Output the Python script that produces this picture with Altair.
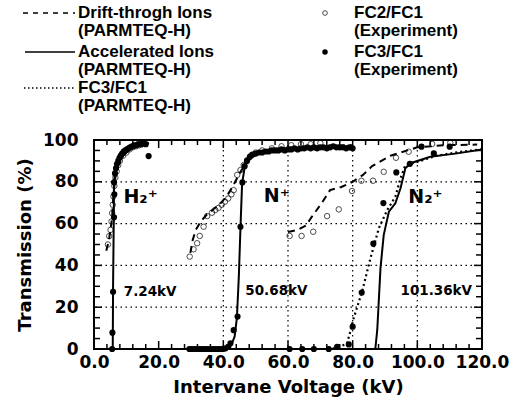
import altair as alt
import pandas as pd

# ---------------- data ----------------
# Drift-through ions (PARMTEQ-H) - dashed
drift_h2_x = [3.8, 4.6, 5.1, 5.6, 5.8, 6.1, 6.6, 7.5, 9.0, 11.0, 14.0, 17.0]
drift_h2_y = [47, 52, 57, 63, 69, 75, 82, 88, 92.5, 95.5, 97.5, 98.5]
drift_n_x = [29.8, 30.5, 31.5, 33.0, 35.0, 37.0, 39.0, 41.0, 43.0, 45.0, 47.0, 49.0, 52.0, 56.0, 62.0, 70.0, 80.0]
drift_n_y = [46, 52, 57, 61, 64.5, 67, 69.5, 73, 78, 84, 89, 92, 94, 95.5, 96.5, 97, 97.5]
drift_n2_x = [60.0, 63.0, 65.5, 67.7, 70.5, 73.0, 76.5, 80.0, 83.2, 86.0, 91.7, 100.0, 108.0, 118.5]
drift_n2_y = [56, 57, 59, 64, 70, 76, 77.5, 80, 83.3, 87.5, 92.5, 96.5, 97.5, 97.8]

# Accelerated ions (PARMTEQ-H) - solid
acc_h2_x = [5.8, 5.9, 6.1, 6.2, 6.6, 7.5, 8.5, 10.0, 12.0, 14.0, 17.0]
acc_h2_y = [0, 30, 60, 80, 85, 89, 92, 94.5, 96.5, 97.5, 98.5]
acc_n_x = [29.5, 41.5, 42.5, 43.5, 44.2, 44.8, 45.3, 45.8, 46.6, 48.0, 51.0, 56.0, 62.0, 70.0, 80.0]
acc_n_y = [0, 0, 2, 6, 15, 35, 58, 79, 87, 92, 94, 95, 95.8, 96.3, 96.8]
acc_n2_x = [87.0, 87.6, 88.6, 89.6, 91.2, 93.2, 94.8, 96.3, 97.9, 104.0, 112.3, 120.0]
acc_n2_y = [0, 9, 38.6, 54.5, 65.7, 69.7, 76.9, 86.5, 88.9, 92.0, 93.6, 95.5]

# FC3/FC1 (PARMTEQ-H) - dotted
fc3sim_n2_x = [60.0, 73.0, 76.0, 78.3, 80.3, 82.9, 85.5, 88.1, 90.7, 93.2, 94.8, 96.3, 99.9, 106.0, 114.0, 120.0]
fc3sim_n2_y = [0, 0, 1, 2.7, 14.7, 27.4, 43.4, 57.8, 66.5, 72.9, 81.7, 88, 89.5, 92.5, 94.5, 95.5]

# FC2/FC1 (Experiment) - open circles
fc2_x = [4.3, 4.7, 5.1, 5.4, 5.6, 5.8, 6.0, 6.3, 6.6, 7.0, 7.5, 8.0, 9.0, 10.0, 11.0, 12.0, 13.0, 14.0, 15.0,
         29.6, 30.8, 31.9, 32.7, 33.9, 35.0, 36.5, 37.5, 38.5, 39.5, 40.5, 41.5, 42.5, 43.2, 44.3, 45.3, 46.3,
         47.4, 48.5, 50.0, 52.0, 55.0, 58.0, 61.0, 64.0, 67.0, 70.0,
         60.5, 64.2, 67.8, 72.1, 75.7, 79.8, 82.7, 86.3, 89.6, 93.4, 97.3, 104.6, 110.2]
fc2_y = [50, 54, 57, 61, 65, 69, 73, 78, 82, 85, 88, 90, 92.5, 94, 95.5, 96.5, 97, 97.5, 98,
         44.2, 47.7, 50.6, 54.1, 58.5, 63.6, 65.2, 66.5, 67.5, 69, 70.5, 72, 74, 76, 83.3, 85.6, 88,
         90.4, 92.5, 94, 95, 96, 97, 97.5, 98, 98, 98.5,
         54.1, 54.1, 56.1, 63.6, 66.8, 75.6, 80.5, 80.5, 84.8, 91.5, 94.4, 98.1, 98.7]

# FC3/FC1 (Experiment) - filled circles
fc3_x = [5.6, 5.7, 5.9, 6.2, 6.3, 6.2, 6.5, 6.8, 7.1, 7.5, 7.9, 8.3, 8.7, 9.2, 9.7, 10.2, 10.7, 11.2, 11.8,
         12.4, 13.0, 13.7, 14.5, 15.3, 16.0, 16.9,
         29.5, 30.3, 31.1, 31.9, 32.7, 33.5, 34.3, 35.1, 35.9, 36.7, 37.5, 38.3, 39.1, 39.9, 40.7, 41.5,
         42.2, 43.2, 44.4, 45.3, 45.9, 46.6, 47.3, 48.2, 49, 50, 51, 52, 53, 54, 55, 56, 57, 58, 59, 60,
         61, 62, 63, 64, 65, 66, 67, 68, 69, 70, 71, 72, 73, 74, 75, 76, 77, 78, 79, 80,
         60.5, 64.4, 68.0, 72.6, 75.2, 78.8, 80.0, 82.8, 86.4, 89.5, 93.5, 97.7, 101.3, 105.1, 110.0]
fc3_y = [0, 7.8, 27.4, 63, 74, 79.8, 84, 86.5, 88.5, 90, 91.5, 92.5, 93.5, 94.5, 95, 95.5, 96, 96.5, 97,
         97.5, 97.5, 98, 98, 98.5, 98, 92.3,
         0, 0, 0, 0, 0, 0, 0, 0, 0, 0, 0, 0, 0, 0, 0.3, 1,
         2.7, 9, 15.5, 58.5, 79.7, 87.5, 90, 92, 93, 93.5, 94, 94, 94.5, 94.5, 95, 95, 95, 95.5, 95, 95.5,
         95.5, 96, 95.5, 96, 96, 96.5, 96, 96.5, 96, 96.5, 96.5, 96, 96.5, 97, 96.5, 96.5, 96.5, 96, 96.5, 96,
         0, 0, 0, 0, 1, 2.2, 10.7, 27, 50.4, 69.8, 84.5, 88.6, 96.8, 93.6, 96.8]

# in-plot annotations
ann_text = ["H\u2082\u207a", "N\u207a", "N\u2082\u207a"]
ann_x = [9.1, 52.5, 97.2]
ann_y = [72.9, 73.2, 72.9]
volt_text = ["7.24kV", "50.68kV", "101.36kV"]
volt_x = [9.2, 46.8, 94.8]
volt_y = [27.4, 27.8, 27.8]

# axes / grid
x_labels = [0, 20, 40, 60, 80, 100, 120]
y_labels = [0, 20, 40, 60, 80, 100]
x_grid = [40, 60, 80, 100]
y_grid = [20, 40, 60, 80]
x_minor = [v for v in range(0, 121, 4) if v % 20 != 0]
y_minor = [v for v in range(0, 101, 5) if v % 20 != 0]

# legend
leg_line_text = ["Drift-throgh Ions\n(PARMTEQ-H)", "Accelerated Ions\n(PARMTEQ-H)", "FC3/FC1\n(PARMTEQ-H)"]
leg_mark_text = ["FC2/FC1\n(Experiment)", "FC3/FC1\n(Experiment)"]

# ---------------- chart ----------------
W, H = 388, 209
FONT = "DejaVu Sans"
LFONT = "Liberation Sans"

xs = alt.Scale(domain=[0, 120], nice=False)
ys = alt.Scale(domain=[0, 100], nice=False)

x_axis = alt.Axis(
    values=x_labels, format=".1f", ticks=False, domain=False, grid=False,
    labelFont=FONT, labelFontSize=17, labelFontWeight="bold", labelColor="black",
    labelPadding=5, labelFlush=False,
    title="Intervane Voltage (kV)", titleFont=FONT, titleFontSize=18,
    titleFontWeight="bold", titleColor="black", titlePadding=8)
y_axis = alt.Axis(
    values=y_labels, format="d", ticks=False, domain=False, grid=False,
    labelFont=FONT, labelFontSize=17, labelFontWeight="bold", labelColor="black",
    labelPadding=16, labelFlush=False,
    title="Transmission (%)", titleFont=FONT, titleFontSize=18,
    titleFontWeight="bold", titleColor="black", titlePadding=8)

X = alt.X("x:Q", scale=xs, axis=x_axis)
Y = alt.Y("y:Q", scale=ys, axis=y_axis)


def curve(xv, yv, g):
    return pd.DataFrame({"x": xv, "y": yv, "g": g, "i": list(range(len(xv)))})


drift_df = pd.concat([curve(drift_h2_x, drift_h2_y, "H2"), curve(drift_n_x, drift_n_y, "N"),
                      curve(drift_n2_x, drift_n2_y, "N2")])
acc_df = pd.concat([curve(acc_h2_x, acc_h2_y, "H2"), curve(acc_n_x, acc_n_y, "N"),
                    curve(acc_n2_x, acc_n2_y, "N2")])
dot_df = curve(fc3sim_n2_x, fc3sim_n2_y, "N2")
fc2_df = pd.DataFrame({"x": fc2_x, "y": fc2_y})
fc3_df = pd.DataFrame({"x": fc3_x, "y": fc3_y})

grid_style = dict(color="black", strokeWidth=1.2, strokeDash=[1.5, 3.5])
vgrid = alt.Chart(pd.DataFrame({"x": x_grid})).mark_rule(**grid_style).encode(x=X)
hgrid = alt.Chart(pd.DataFrame({"y": y_grid})).mark_rule(**grid_style).encode(y=Y)

drift = alt.Chart(drift_df).mark_line(color="black", strokeWidth=2, strokeDash=[7, 5]).encode(
    x=X, y=Y, detail="g:N", order="i:Q")
acc = alt.Chart(acc_df).mark_line(color="black", strokeWidth=2).encode(
    x=X, y=Y, detail="g:N", order="i:Q")
dotted = alt.Chart(dot_df).mark_line(color="black", strokeWidth=2.2, strokeDash=[2, 3]).encode(
    x=X, y=Y, detail="g:N", order="i:Q")

open_pts = alt.Chart(fc2_df).mark_point(shape="circle", filled=False, color="black",
                                        strokeWidth=1, size=30).encode(x=X, y=Y)
full_pts = alt.Chart(fc3_df).mark_point(shape="circle", filled=True, color="black",
                                        opacity=1, size=38).encode(x=X, y=Y)

ann = alt.Chart(pd.DataFrame({"x": ann_x, "y": ann_y, "t": ann_text})).mark_text(
    align="left", baseline="middle", font=FONT, fontSize=19, fontWeight="bold", color="black"
).encode(x=X, y=Y, text="t:N")
volt = alt.Chart(pd.DataFrame({"x": volt_x, "y": volt_y, "t": volt_text})).mark_text(
    align="left", baseline="middle", font=FONT, fontSize=13.5, fontWeight="bold", color="black"
).encode(x=X, y=Y, text="t:N")


# inward ticks on all four sides
def xticks(vals, length):
    d = pd.DataFrame({"x": vals})
    bot = alt.Chart(d).mark_rule(color="black", strokeWidth=1.5).encode(
        x=X, y=alt.value(H), y2=alt.value(H - length))
    top = alt.Chart(d).mark_rule(color="black", strokeWidth=1.5).encode(
        x=X, y=alt.value(0), y2=alt.value(length))
    return [bot, top]


def yticks(vals, length):
    d = pd.DataFrame({"y": vals})
    left = alt.Chart(d).mark_rule(color="black", strokeWidth=1.5).encode(
        y=Y, x=alt.value(0), x2=alt.value(length))
    right = alt.Chart(d).mark_rule(color="black", strokeWidth=1.5).encode(
        y=Y, x=alt.value(W), x2=alt.value(W - length))
    return [left, right]


ticks = xticks(x_labels, 8) + xticks(x_minor, 5) + yticks(y_labels, 8) + yticks(y_minor, 6)

# legend (drawn above the plot area)
leg_rows_y = [-127, -88, -52]
one = pd.DataFrame({"a": [0]})
legend_layers = []
for txt, py in zip(leg_line_text, leg_rows_y):
    legend_layers.append(alt.Chart(one).mark_text(
        align="left", baseline="middle", font=LFONT, fontSize=17, fontWeight="bold",
        color="black", lineBreak="\n", lineHeight=18, text=txt
    ).encode(x=alt.value(-16), y=alt.value(py)))
for txt, py in zip(leg_mark_text, leg_rows_y[:2]):
    legend_layers.append(alt.Chart(one).mark_text(
        align="left", baseline="middle", font=LFONT, fontSize=17, fontWeight="bold",
        color="black", lineBreak="\n", lineHeight=18, text=txt
    ).encode(x=alt.value(260), y=alt.value(py)))

legend_layers.append(alt.Chart(one).mark_rule(
    color="black", strokeWidth=1.5, strokeDash=[5, 5]).encode(
    x=alt.value(-71), x2=alt.value(-19), y=alt.value(leg_rows_y[0])))
legend_layers.append(alt.Chart(one).mark_rule(
    color="black", strokeWidth=1.5).encode(
    x=alt.value(-69), x2=alt.value(-19), y=alt.value(leg_rows_y[1])))
legend_layers.append(alt.Chart(one).mark_rule(
    color="black", strokeWidth=1.5, strokeDash=[1.5, 2.5]).encode(
    x=alt.value(-70), x2=alt.value(-19), y=alt.value(leg_rows_y[2])))
legend_layers.append(alt.Chart(one).mark_point(
    shape="circle", filled=False, color="black", strokeWidth=1, size=22).encode(
    x=alt.value(231), y=alt.value(leg_rows_y[0])))
legend_layers.append(alt.Chart(one).mark_point(
    shape="circle", filled=True, color="black", opacity=1, size=30).encode(
    x=alt.value(231), y=alt.value(leg_rows_y[1])))

chart = alt.layer(
    vgrid, hgrid, drift, dotted, acc, open_pts, full_pts, ann, volt,
    *ticks, *legend_layers
).properties(
    width=W, height=H,
    autosize=alt.AutoSizeParams(type="none"),
    padding={"left": 94, "top": 140, "right": 30, "bottom": 51},
    background="white",
).configure_view(stroke="black", strokeWidth=2)

chart.save("out.html", embed_options={"renderer": "svg", "actions": False})
